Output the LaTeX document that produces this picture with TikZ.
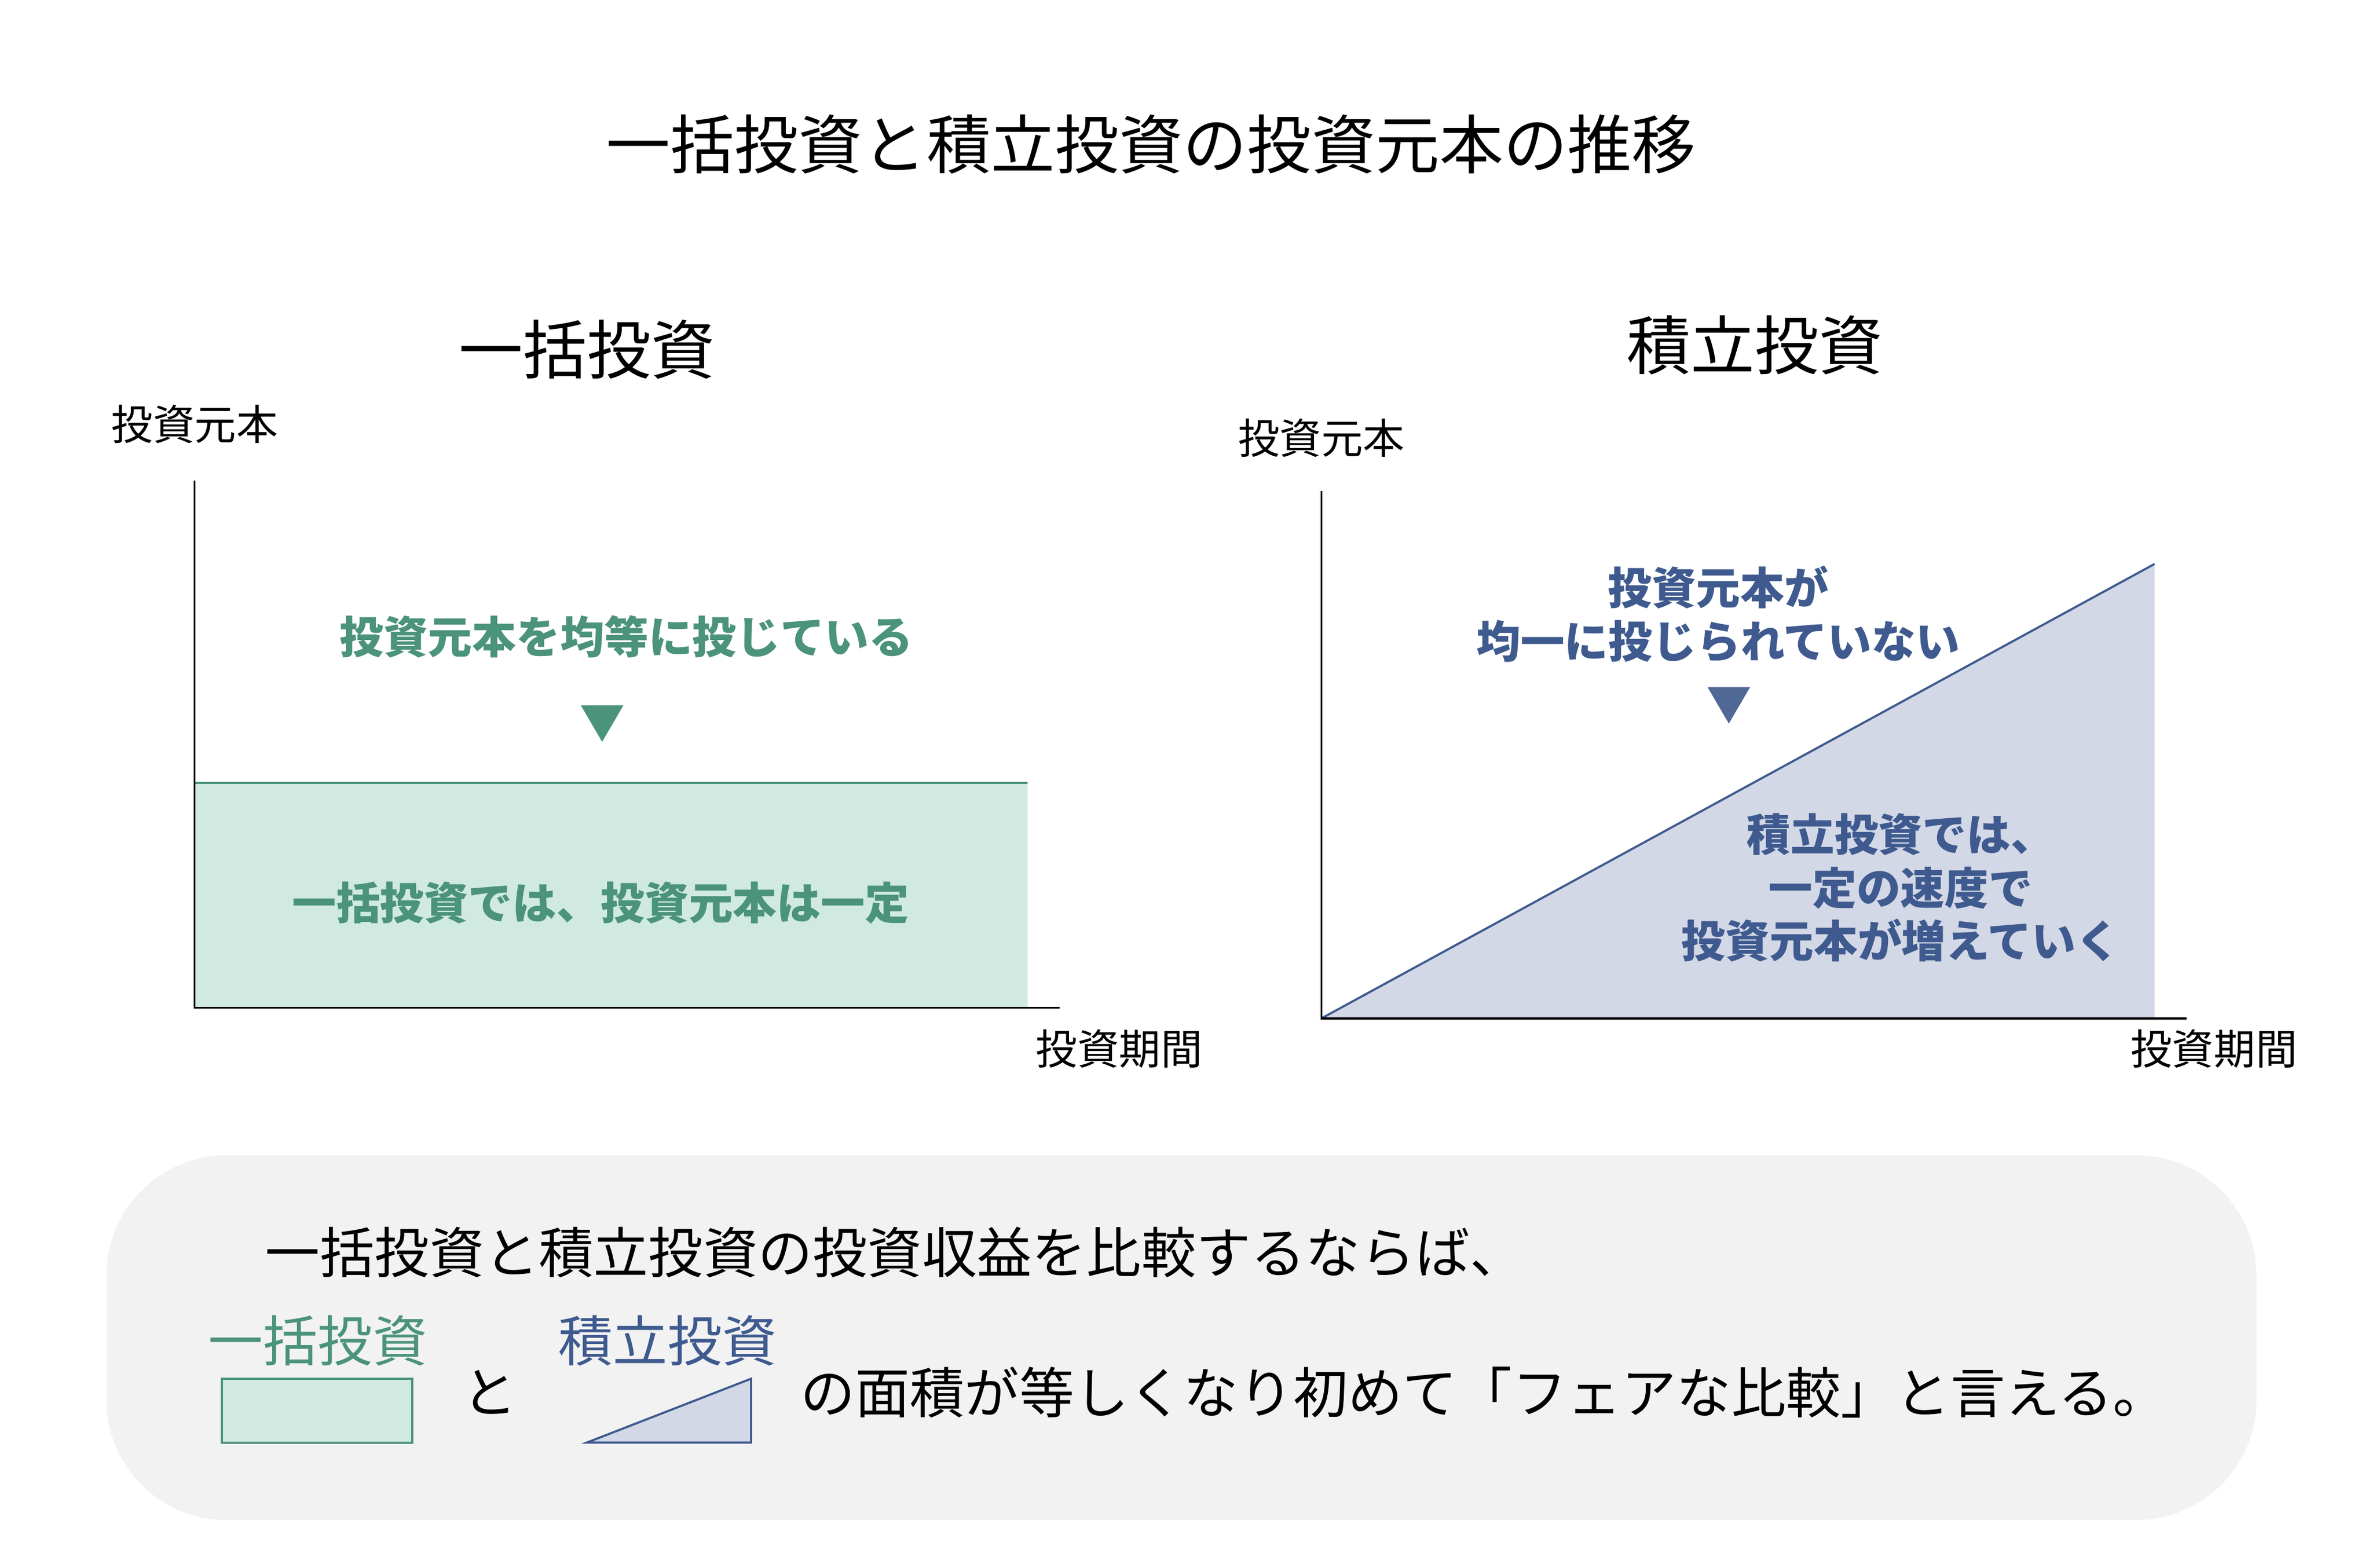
\documentclass[tikz,border=0pt]{standalone}
\usepackage{fontspec}
\setmainfont{Noto Sans CJK JP}
\usetikzlibrary{positioning}

\definecolor{lumpgreen}{HTML}{4B937A}
\definecolor{lumpfill}{HTML}{D0EAE1}
\definecolor{accblue}{HTML}{3F5A8F}
\definecolor{accmark}{HTML}{506896}
\definecolor{accfill}{HTML}{D3D8E6}
\definecolor{panelgray}{HTML}{F2F2F2}

\tikzset{
  axis/.style={line width=0.7pt, black},
  heading/.style={inner sep=0pt, font=\fontsize{24pt}{28pt}\selectfont},
  axislabel/.style={inner sep=0pt, font=\fontsize{15.6pt}{18pt}\selectfont},
  note/.style={inner sep=0pt, align=center, font=\bfseries\fontsize{16.5pt}{20pt}\selectfont},
  summary/.style={inner sep=0pt, font=\fontsize{20.5pt}{24pt}\selectfont}
}

\begin{document}
\begin{tikzpicture}[x=0.02cm, y=-0.02cm]
\useasboundingbox (0,0) rectangle (1560,1031.5);

% title
\node[heading] (title) at (757,95) {一括投資と積立投資の投資元本の推移};

% lump-sum chart
\node[heading] (lumphead) at (386,230) {一括投資};
\fill[lumpfill] (128,515) rectangle (676,663);
\draw[lumpgreen, line width=0.8pt] (128,515) -- (676,515);
\coordinate (ltop) at (128,316);
\coordinate (lorig) at (128,663);
\coordinate (lend) at (697,663);
\draw[axis] (ltop) -- (lorig) -- (lend);
\node[axislabel] (lylab) at (128,279) {投資元本};
\node[axislabel] (lxlab) at (736,690) {投資期間};
\node[note, lumpgreen] (lumpnote) at (412,419) {投資元本を均等に投じている};
\fill[lumpgreen] (382,464) -- (410,464) -- (396,488) -- cycle;
\node[note, lumpgreen] (lumpinfo) at (395,594) {一括投資では、投資元本は一定};

% regular-saving chart
\node[heading] (acchead) at (1154,227) {積立投資};
\coordinate (rtop) at (869,323);
\coordinate (rorig) at (869,670);
\coordinate (rend) at (1438,670);
\coordinate (rpeak) at (1417,371);
\fill[accfill] (rorig) -- (rpeak) -- (1417,670) -- cycle;
\draw[accblue, line width=0.8pt] (rorig) -- (rpeak);
\draw[axis] (rtop) -- (rorig) -- (rend);
\node[axislabel] (rylab) at (869,288) {投資元本};
\node[axislabel] (rxlab) at (1456,690) {投資期間};
\node[note, accblue] (accnote) at (1130,404) {投資元本が\\均一に投じられていない};
\fill[accmark] (1123,452) -- (1151,452) -- (1137,476) -- cycle;
\node[note, accblue] (accinfo) at (1250,584) {積立投資では、\\一定の速度で\\投資元本が増えていく};

% summary panel
\fill[panelgray, rounded corners=45] (70,760) rectangle (1484,1000);
\node[summary, anchor=west] (line1) at (174,824) {一括投資と積立投資の投資収益を比較するならば、};
\node[summary, lumpgreen] (lumpkey) at (209,882) {一括投資};
\draw[lumpgreen, fill=lumpfill, line width=0.8pt] (146,907) rectangle (271,949);
\node[summary] (andword) at (322,916) {と};
\node[summary, accblue] (acckey) at (439,882) {積立投資};
\draw[accblue, fill=accfill, line width=0.8pt] (386,949) -- (494,907) -- (494,949) -- cycle;
\node[summary, anchor=west] (line2) at (526,916) {の面積が等しくなり初めて「フェアな比較」と言える。};
\end{tikzpicture}
\end{document}
